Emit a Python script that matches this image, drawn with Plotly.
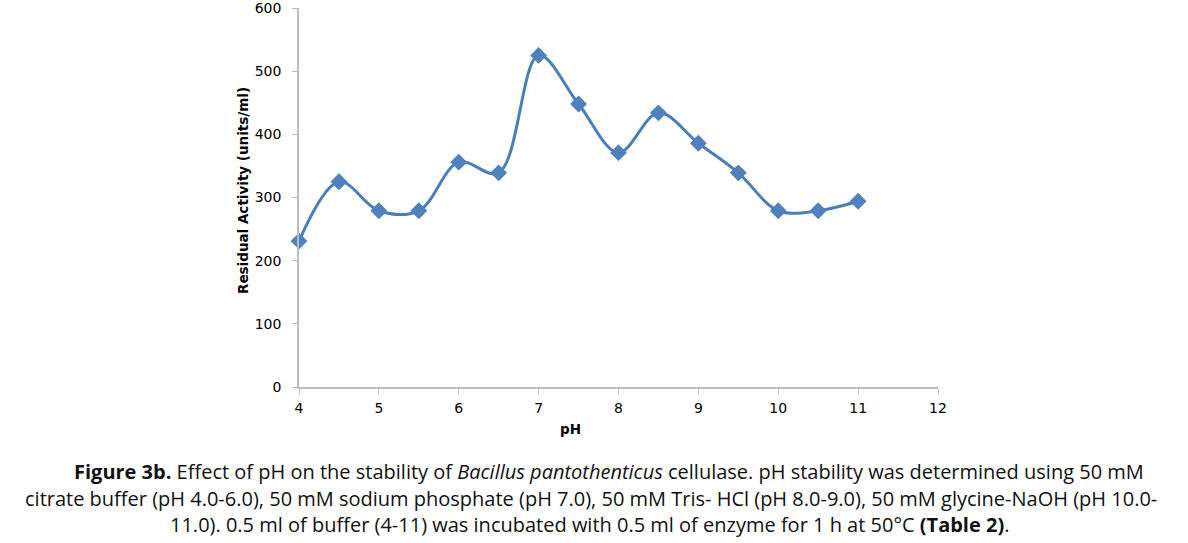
import plotly.graph_objects as go

ph = [4, 4.5, 5, 5.5, 6, 6.5, 7, 7.5, 8, 8.5, 9, 9.5, 10, 10.5, 11]
activity = [231, 325, 279, 279, 356, 339, 525, 448, 371, 434, 386, 339, 279, 279, 294]

x_ticks = [4, 5, 6, 7, 8, 9, 10, 11, 12]
y_ticks = [0, 100, 200, 300, 400, 500, 600]

W, H = 1188, 543
L, R, T, B = 299, 938, 8, 387

fig = go.Figure()
fig.add_trace(go.Scatter(
    x=ph, y=activity, mode="lines+markers",
    line=dict(color="#4a7ebb", width=3, shape="spline", smoothing=1.0),
    marker=dict(symbol="diamond", size=13, color="#4f81bd", line=dict(width=0)),
    showlegend=False, hoverinfo="x+y", cliponaxis=False,
))

tickfont = dict(family="DejaVu Sans", size=14, color="#000000")
common = dict(showgrid=False, zeroline=False, showline=True, linecolor="#bdbdbd", linewidth=1.5,
              ticks="outside", ticklen=5, tickcolor="#bdbdbd", tickfont=tickfont,
              ticklabeloverflow="allow", automargin=False)
fig.update_xaxes(range=[4, 12], tickvals=x_ticks, ticklabelstandoff=2, **common)
fig.update_yaxes(range=[0, 600], tickvals=y_ticks, ticklabelstandoff=8, **common)

def px(xp):
    return (xp - L) / (R - L)

def py(yp):
    return (B - yp) / (B - T)

titlefont = dict(family="DejaVu Sans", size=13.5, color="#000")
ann = []
ann.append(dict(text="<b>pH</b>", x=px(570), y=py(427), xref="paper", yref="paper",
                yanchor="middle", yshift=-2, showarrow=False, font=titlefont))
ann.append(dict(text="<b>Residual Activity (units/ml)</b>", x=px(233), y=py(191), xref="paper", yref="paper",
                showarrow=False, textangle=-90, font=titlefont))

capfont = dict(family="Open Sans, sans-serif", size=20, color="#111")
lines = [
    ("<b>Figure 3b.</b> Effect of pH on the stability of <i>Bacillus pantothenticus</i> cellulase. pH stability was determined using 50 mM", 609, 471),
    ("citrate buffer (pH 4.0-6.0), 50 mM sodium phosphate (pH 7.0), 50 mM Tris- HCl (pH 8.0-9.0), 50 mM glycine-NaOH (pH 10.0-", 591, 498),
    ("11.0). 0.5 ml of buffer (4-11) was incubated with 0.5 ml of enzyme for 1 h at 50°C <b>(Table 2)</b>.", 589, 524),
]
for txt, cx, cy in lines:
    ann.append(dict(text=txt, x=px(cx), y=py(cy), xref="paper", yref="paper",
                    showarrow=False, xanchor="center", yanchor="middle", font=capfont))

fig.update_layout(width=W, height=H, margin=dict(l=L, r=W - R, t=T, b=H - B),
                  paper_bgcolor="white", plot_bgcolor="white", annotations=ann)

fig.write_html("out.html", config={"displayModeBar": False})
